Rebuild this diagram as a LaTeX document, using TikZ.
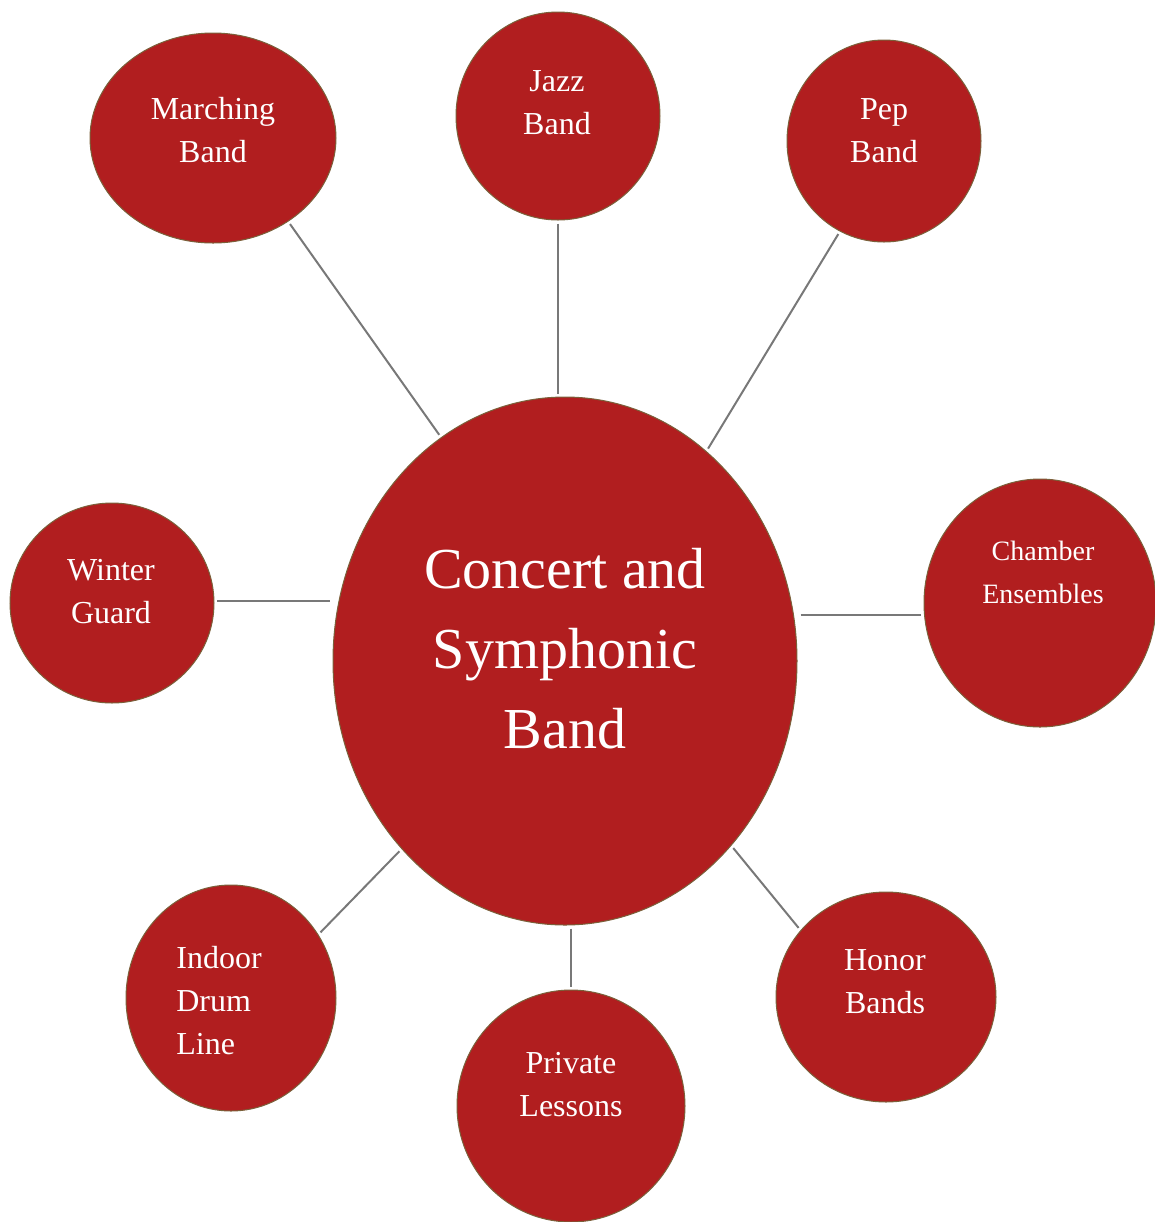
\documentclass[tikz,border=0pt]{standalone}
\usepackage{fontspec}
\setmainfont{Liberation Serif}
\usepackage{xcolor}
\usetikzlibrary{shapes,positioning,calc}

\definecolor{bandred}{RGB}{177,30,31}
\definecolor{bandrim}{RGB}{122,96,58}
\definecolor{linkgray}{RGB}{120,120,120}

\begin{document}
\begin{tikzpicture}[
    x=0.5pt, y=-0.5pt,
    bubble/.style 2 args={ellipse, draw=bandrim, line width=0.5pt, fill=bandred, inner sep=0pt, minimum width=#1, minimum height=#2},
    caption/.style={text=white, align=center, inner sep=0pt, font=\fontsize{16}{21.5}\selectfont},
    hubcaption/.style={text=white, align=center, inner sep=0pt, font=\fontsize{29}{40}\selectfont},
    link/.style={draw=linkgray, line width=1pt, shorten >=1.5pt, shorten <=1.5pt}
]
    \useasboundingbox (0,0) rectangle (1155,1222);

    % circles
    \node [bubble={232pt}{264pt}] (concert) at (565,661) {};
    \node [bubble={123pt}{105pt}] (marching) at (213,138) {};
    \node [bubble={102pt}{104pt}] (jazz) at (558,116) {};
    \node [bubble={97pt}{101pt}] (pep) at (884,141) {};
    \node [bubble={102pt}{100pt}] (winter) at (112,603) {};
    \node [bubble={116pt}{124pt}] (chamber) at (1040,603) {};
    \node [bubble={105pt}{113pt}] (indoor) at (231,998) {};
    \node [bubble={114pt}{116pt}] (private) at (571,1106) {};
    \node [bubble={110pt}{105pt}] (honor) at (886,997) {};

    % texts
    \node [hubcaption] (concert-text) at (565,649) {Concert and\\Symphonic\\Band};
    \node [caption] (marching-text) at (213,130) {Marching\\Band};
    \node [caption] (jazz-text) at (557,103) {Jazz\\Band};
    \node [caption] (pep-text) at (884,131) {Pep\\Band};
    \node [caption] (winter-text) at (111,592) {Winter\\Guard};
    \node [caption, font=\fontsize{14}{21.5}\selectfont] (chamber-text) at (1043,572) {Chamber\\Ensembles};
    \node [caption, align=left] (indoor-text) at (219,1001) {Indoor\\Drum\\Line};
    \node [caption] (private-text) at (571,1085) {Private\\Lessons};
    \node [caption] (honor-text) at (885,982) {Honor\\Bands};

    % connectors
    \path [link] (marching.-48) -- (concert.119);
    \path [link] (jazz.south) -- (jazz.south |- concert.north);
    \path [link] (pep.-116) -- (concert.56);
    \path [link] (winter.1) -- (winter.1 -| concert.west);
    \path [link] (chamber.186 -| concert.east) -- (chamber.186);
    \path [link] (indoor.36) -- (concert.229);
    \path [link] (private.north |- concert.south) -- (private.north);
    \path [link] (concert.-48) -- (honor.142);
\end{tikzpicture}
\end{document}
